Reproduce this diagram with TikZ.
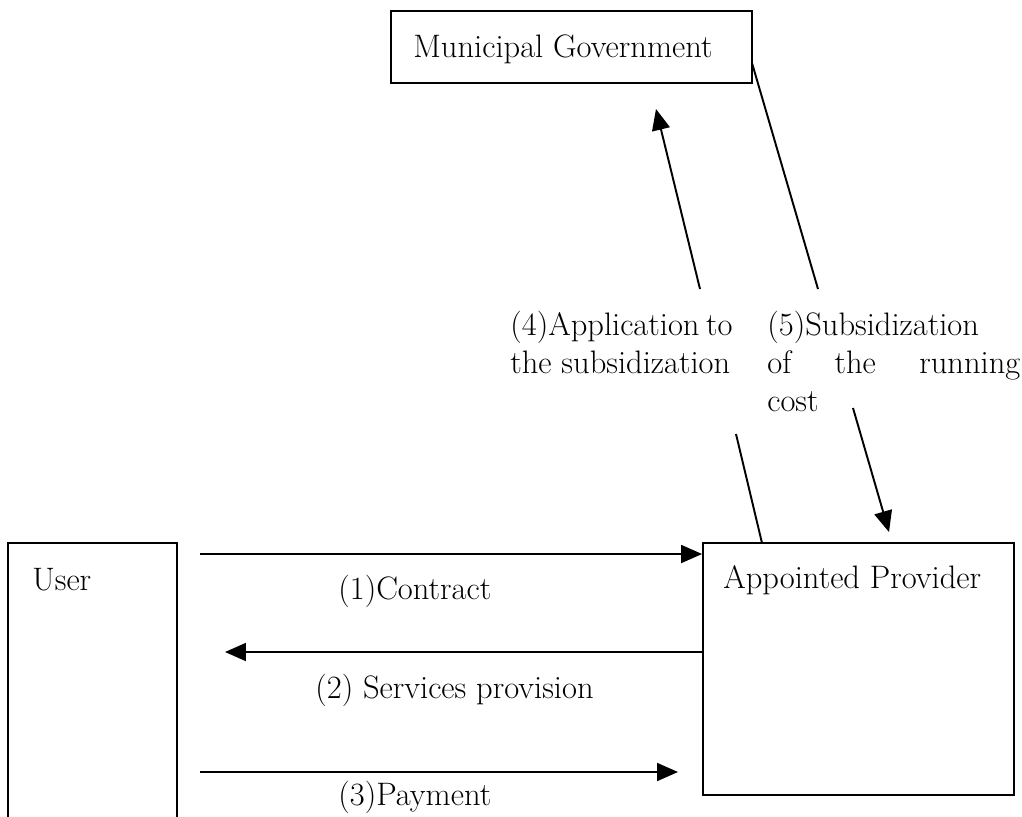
\documentclass[tikz,border=0pt]{standalone}
\usepackage{tikz}
\usetikzlibrary{arrows.meta,positioning}

\tikzset{
  box/.style={draw, line width=1.1pt, inner sep=0pt},
  lbl/.style={font=\fontsize{18.5}{21.5}\selectfont, inner sep=0pt, anchor=base west},
  para/.style={lbl, anchor=north west, align=left},
  seg/.style={line width=1.1pt},
  flow/.style={seg, -{Triangle[length=0.42cm,width=0.36cm]}},
}

\begin{document}
\begin{tikzpicture}[x=0.02cm,y=-0.02cm]
    \useasboundingbox (0,0) rectangle (1022,816);
    \clip (0,0) rectangle (1022,816);
    % boxes
    \node[box, minimum width=7.22cm, minimum height=1.44cm] (gov) at (571.5,47) {};
    \node[box, minimum width=3.38cm, minimum height=7.2cm] (user) at (92.5,723) {};
    \node[box, minimum width=6.22cm, minimum height=5.04cm] (prov) at (858.5,669) {};
    \node[lbl] (govtext) at (413,57) {Municipal Government};
    \node[lbl] (usertext) at (32,590) {User};
    \node[lbl] (provtext) at (723,588) {Appointed Provider};
    % labels
    \node[lbl] (contract) at (338,599) {(1)Contract};
    \node[lbl] (service) at (315,698) {(2) Services provision};
    \node[lbl] (payment) at (338,805) {(3)Payment};
    \node[para] (apply) at (510,311)
      {\makebox[4.4cm][s]{(4)Application to}\\the subsidization};
    \node[para] (subsidy) at (767,311)
      {(5)Subsidization\\\makebox[5.06cm][s]{of the running}\\cost};
    % connectors
    \coordinate (c1) at (200,554);
    \coordinate (c2) at (225,652);
    \coordinate (c3s) at (200,772);
    \coordinate (c3e) at (678,772);
    \draw[flow] (c1) -- (c1 -| prov.west);
    \draw[flow] (c2 -| prov.west) -- (c2);
    \draw[flow] (c3s) -- (c3e);
    \coordinate (a4s) at (762,543);
    \coordinate (a4m) at (736,434);
    \coordinate (a4n) at (700,289);
    \coordinate (a4e) at (656,109);
    \draw[seg] (a4s) -- (a4m);
    \draw[flow] (a4n) -- (a4e);
    \coordinate (a5s) at (752,63);
    \coordinate (a5m) at (818,289);
    \coordinate (a5n) at (853,408);
    \coordinate (a5e) at (889,532);
    \draw[seg] (a5s) -- (a5m);
    \draw[flow] (a5n) -- (a5e);
\end{tikzpicture}
\end{document}
